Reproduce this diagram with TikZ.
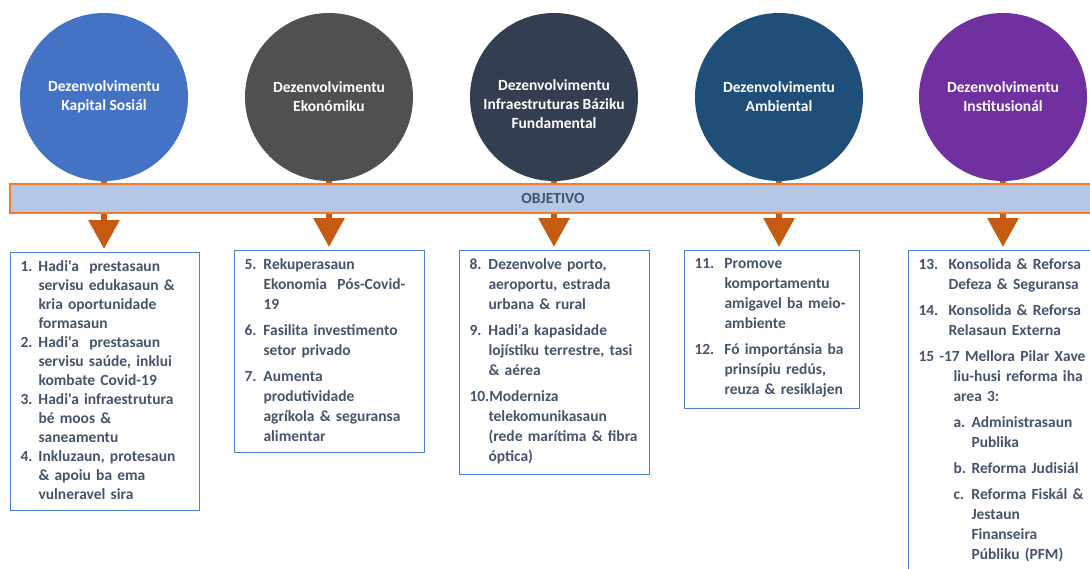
\documentclass[tikz,border=0pt]{standalone}
\usepackage{fontspec}
\setmainfont{Carlito}[Ligatures=TeXOff]
\usepackage{xcolor}
\usepackage{tikz}
\usetikzlibrary{arrows.meta}
\definecolor{bodytext}{HTML}{44546A}
\definecolor{socialblue}{HTML}{4472C4}
\definecolor{econgray}{HTML}{505050}
\definecolor{infranavy}{HTML}{333F50}
\definecolor{envblue}{HTML}{1F4E79}
\definecolor{instpurple}{HTML}{7030A0}
\definecolor{bannerfill}{HTML}{B4C7E7}
\definecolor{bannerline}{HTML}{ED7D31}
\definecolor{arrowfill}{HTML}{C55A11}
\definecolor{boxline}{HTML}{4F7FCF}
\newcommand{\entry}[3]{\noindent\hangindent=#1\hangafter=1\makebox[#1][l]{#2}#3\par}
\newcommand{\subentry}[2]{\noindent\hangindent=53pt\hangafter=1\hspace*{35pt}\makebox[18pt][l]{#1}#2\par}
\newcommand{\gap}{\vspace{6pt}}
\tikzset{
	pillar/.style={circle,minimum size=168pt,inner sep=0pt,text=white,align=center,font=\fontsize{15.5}{19}\selectfont\bfseries},
	goalbox/.style={rectangle,draw=boxline,line width=1pt,anchor=north west,inner xsep=10pt,inner ysep=8pt,text=bodytext,execute at begin node=\raggedright\let\\\newline,execute at end node=\vspace{3pt},font=\fontsize{15.5}{20}\selectfont\bfseries},
	banner/.style={rectangle,draw=bannerline,fill=bannerfill,line width=1.2pt,minimum width=1086pt,minimum height=29pt,inner sep=0pt,text=bodytext,font=\fontsize{15.5}{19}\selectfont\bfseries},
	downarrow/.style={draw=arrowfill,line width=6pt,arrows={-Triangle[width=30pt,length=29pt]},shorten >=3pt}
	}

\begin{document}
\begin{tikzpicture}[x=1pt,y=-1pt]
	\useasboundingbox (0,0) rectangle (1090,568);
	\clip (0,0) rectangle (1090,568);
	\node[pillar,fill=socialblue] (p1) at (104,97) {Dezenvolvimentu\\Kapital Sosiál};
	\node[pillar,fill=econgray] (p2) at (329,97) {Dezenvolvimentu\\Ekonómiku};
	\node[pillar,fill=infranavy] (p3) at (554,97) {\mbox{}\\[7pt]Dezenvolvimentu\\Infraestruturas Báziku\\Fundamental};
	\node[pillar,fill=envblue] (p4) at (779,97) {Dezenvolvimentu\\Ambiental};
	\node[pillar,fill=instpurple] (p5) at (1003,97) {Dezenvolvimentu\\Institusionál};

	\node[goalbox,text width=169pt,font=\fontsize{15.5}{19}\selectfont\bfseries] (g1) at (10,252) {%
		\entry{18pt}{1.}{Hadi'a\ \ prestasaun\\servisu edukasaun \&\\kria oportunidade\\formasaun}
		\entry{18pt}{2.}{Hadi'a\ \ prestasaun\\servisu saúde, inklui\\kombate Covid-19}
		\entry{18pt}{3.}{Hadi'a infraestrutura\\bé moos \&\\saneamentu}
		\entry{18pt}{4.}{Inkluzaun, protesaun\\\& apoiu ba ema\\vulneravel sira}};
	\node[goalbox,text width=170pt] (g2) at (234,250) {%
		\entry{19pt}{5.}{Rekuperasaun\\Ekonomia\ \ Pós-Covid-\\19}\gap
		\entry{19pt}{6.}{Fasilita investimento\\setor privado}\gap
		\entry{19pt}{7.}{Aumenta\\produtividade\\agríkola \& seguransa\\alimentar}};
	\node[goalbox,text width=170pt] (g3) at (459,250) {%
		\entry{19pt}{8.}{Dezenvolve porto,\\aeroportu, estrada\\urbana \& rural}\gap
		\entry{19pt}{9.}{Hadi'a kapasidade\\lojístiku terrestre, tasi\\\& aérea}\gap
		\entry{19pt}{}{\hspace*{-19pt}10.Moderniza\\telekomunikasaun\\(rede marítima \& fibra\\óptica)}};
	\node[goalbox,text width=155pt] (g4) at (684,250) {%
		\entry{30pt}{11.}{Promove\\komportamentu\\amigavel ba meio-\\ambiente}\gap
		\entry{30pt}{12.}{Fó importánsia ba\\prinsípiu redús,\\reuza \& resiklajen}};
	\node[goalbox,text width=170pt] (g5) at (908,250) {%
		\entry{30pt}{13.}{Konsolida \& Reforsa\\Defeza \& Seguransa}\gap
		\entry{30pt}{14.}{Konsolida \& Reforsa\\Relasaun Externa}\gap
		\entry{35pt}{}{\hspace*{-35pt}15 -17 Mellora Pilar Xave\\liu-husi reforma iha\\area 3:}\gap
		\subentry{a.}{Administrasaun\\Publika}\gap
		\subentry{b.}{Reforma Judisiál}\gap
		\subentry{c.}{Reforma Fiskál \&\\Jestaun\\Finanseira\\Públiku (PFM)}};

	\foreach \i in {1,...,5}
		\draw[downarrow] (p\i.south) -- (p\i.south |- g\i.north);

	\node[banner] (obj) at (553,198.5) {OBJETIVO};
\end{tikzpicture}
\end{document}
